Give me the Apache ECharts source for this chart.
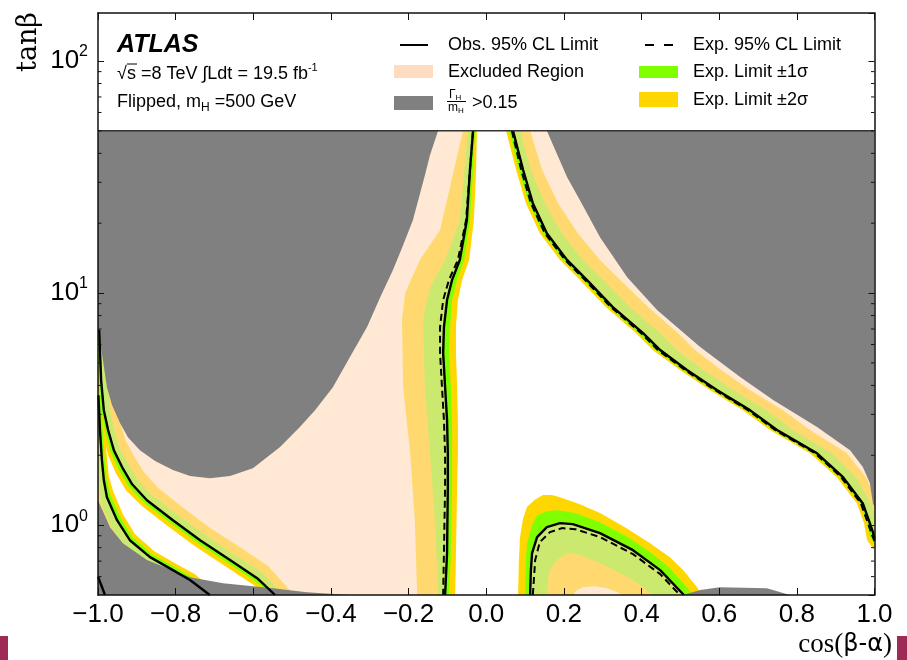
<!DOCTYPE html>
<html><head><meta charset="utf-8">
<script src="https://cdn.jsdelivr.net/npm/echarts@6/dist/echarts.min.js"></script>
<style>html,body{margin:0;padding:0;background:#fff}#c{width:907px;height:660px}</style>
</head><body><div id="c"></div>
<script>
// ---------- axis ticks ----------
const xTickValues = [-1.0, -0.8, -0.6, -0.4, -0.2, 0.0, 0.2, 0.4, 0.6, 0.8, 1.0];
const yMinorTicks = [0.6, 0.7, 0.8, 0.9, 2, 3, 4, 5, 6, 7, 8, 9, 20, 30, 40, 50, 60, 70, 80, 90];

// ---------- Gamma_H/m_H > 0.15 (grey) ----------
const grayTopLeft = [[-1,50],[-0.124,50],[-0.145,39.3],[-0.158,32.2],[-0.189,20.6],[-0.214,16.1],[-0.240,12.6],[-0.274,9.52],[-0.307,7.14],[-0.351,5.30],[-0.395,3.93],[-0.441,3.13],[-0.480,2.65],[-0.531,2.17],[-0.601,1.76],[-0.660,1.63],[-0.712,1.594],[-0.763,1.63],[-0.807,1.73],[-0.853,1.89],[-0.892,2.10],[-0.923,2.39],[-0.943,2.75],[-0.964,3.29],[-0.977,3.93],[-0.990,5.51],[-1,7.14]];
const grayTopRight = [[0.156,50],[0.208,31.6],[0.241,25.2],[0.293,17.4],[0.363,11.7],[0.440,8.45],[0.551,5.85],[0.654,4.35],[0.739,3.46],[0.852,2.65],[0.937,2.10],[0.970,1.78],[0.988,1.52],[0.996,1.24],[1,1.2],[1,50]];
const grayBottomLeft = [[-1,1.28],[-0.969,0.98],[-0.936,0.836],[-0.874,0.707],[-0.763,0.597],[-0.678,0.562],[-0.549,0.535],[-0.462,0.514],[-0.351,0.5],[-1,0.5]];
const grayBottomRight = [[0.507,0.5],[0.551,0.525],[0.602,0.540],[0.723,0.535],[0.782,0.5]];

// ---------- central-left contour ----------
const cenObs = [[-0.034,50],[-0.042,33.9],[-0.050,20.6],[-0.068,13.9],[-0.088,11.4],[-0.101,9.33],[-0.109,7.14],[-0.111,5.51],[-0.106,3.93],[-0.101,2.84],[-0.099,2.04],[-0.099,1.46],[-0.101,0.757],[-0.106,0.5]];
const cenExp = [[-0.034,50],[-0.042,33.9],[-0.052,20.6],[-0.073,13.9],[-0.096,11.4],[-0.111,9.33],[-0.119,7.14],[-0.119,5.51],[-0.114,3.93],[-0.109,2.84],[-0.106,2.04],[-0.106,1.46],[-0.109,0.757],[-0.111,0.5]];
const cenP1 = [[-0.029,50],[-0.034,33.9],[-0.042,20.6],[-0.057,13.9],[-0.075,11.4],[-0.088,9.33],[-0.093,7.14],[-0.096,5.51],[-0.091,3.93],[-0.088,2.84],[-0.088,2.04],[-0.088,1.46],[-0.091,0.757],[-0.096,0.5]];
const cenP2 = [[-0.024,50],[-0.026,33.9],[-0.032,20.6],[-0.044,13.9],[-0.062,11.4],[-0.073,9.33],[-0.078,7.14],[-0.078,5.51],[-0.075,3.93],[-0.073,2.84],[-0.073,2.04],[-0.075,1.46],[-0.078,0.757],[-0.080,0.5]];
const cenM1 = [[-0.047,50],[-0.068,20.6],[-0.106,13.9],[-0.145,10.6],[-0.163,7.65],[-0.158,3.93],[-0.145,2.04],[-0.132,1.05],[-0.124,0.5]];
const cenM2 = [[-0.060,50],[-0.119,18.7],[-0.171,13.9],[-0.209,10.0],[-0.217,7.65],[-0.214,3.93],[-0.196,2.04],[-0.184,1.05],[-0.178,0.5]];

// ---------- right contour ----------
const rightObs = [[0.069,50],[0.095,33.9],[0.120,24.4],[0.156,18.1],[0.208,13.9],[0.259,11.4],[0.326,8.70],[0.404,6.72],[0.448,5.68],[0.517,4.66],[0.594,3.82],[0.679,3.13],[0.749,2.57],[0.852,2.04],[0.919,1.61],[0.970,1.24],[0.988,1.02],[0.996,0.933],[1,0.87]];
const rightExp = [[0.066,50],[0.090,33.9],[0.115,24.4],[0.151,18.1],[0.203,13.9],[0.254,11.4],[0.321,8.70],[0.399,6.72],[0.442,5.68],[0.512,4.66],[0.589,3.82],[0.674,3.13],[0.744,2.57],[0.847,2.04],[0.914,1.61],[0.965,1.24],[0.983,1.02],[0.993,0.915],[1,0.853]];
const rightP1 = [[0.059,50],[0.084,33.9],[0.110,24.4],[0.146,18.1],[0.198,13.9],[0.249,11.4],[0.316,8.70],[0.393,6.72],[0.437,5.68],[0.507,4.66],[0.584,3.82],[0.669,3.13],[0.739,2.57],[0.842,2.04],[0.911,1.61],[0.963,1.24],[0.981,1.02],[0.988,0.897],[1,0.828]];
const rightP2 = [[0.051,50],[0.077,33.9],[0.102,24.4],[0.138,18.1],[0.190,13.9],[0.241,11.4],[0.308,8.70],[0.386,6.72],[0.429,5.68],[0.499,4.66],[0.576,3.82],[0.661,3.13],[0.731,2.57],[0.834,2.04],[0.903,1.61],[0.955,1.24],[0.973,1.02],[0.981,0.861],[1,0.780]];
const rightM1 = [[0.087,50],[0.115,33.9],[0.151,24.4],[0.195,18.1],[0.249,13.9],[0.301,11.4],[0.370,8.70],[0.448,6.72],[0.491,5.68],[0.559,4.66],[0.636,3.82],[0.721,3.13],[0.790,2.57],[0.890,2.04],[0.952,1.61],[0.991,1.24],[1,1.10]];
const rightM2 = [[0.113,50],[0.144,33.9],[0.185,24.4],[0.236,18.1],[0.293,13.9],[0.344,11.4],[0.417,8.70],[0.494,6.72],[0.538,5.68],[0.605,4.66],[0.679,3.82],[0.764,3.13],[0.834,2.57],[0.929,2.04],[0.978,1.61],[1,1.35]];

// ---------- lower-middle lobe ----------
const lobeObs = [[0.113,0.5],[0.115,0.640],[0.118,0.757],[0.131,0.888],[0.156,0.980],[0.190,1.02],[0.223,1.01],[0.293,0.924],[0.378,0.780],[0.448,0.640],[0.509,0.5]];
const lobeExp = [[0.120,0.5],[0.126,0.707],[0.138,0.845],[0.164,0.933],[0.195,0.971],[0.229,0.961],[0.293,0.888],[0.378,0.750],[0.448,0.615],[0.499,0.5]];
const lobeP1 = [[0.100,0.5],[0.102,0.707],[0.105,0.836],[0.118,1.0],[0.131,1.104],[0.156,1.149],[0.182,1.16],[0.229,1.127],[0.293,1.03],[0.370,0.879],[0.422,0.765],[0.473,0.653],[0.517,0.540],[0.530,0.5]];
const lobeP2 = [[0.082,0.5],[0.084,0.707],[0.087,0.888],[0.095,1.072],[0.105,1.20],[0.126,1.29],[0.146,1.35],[0.169,1.35],[0.190,1.32],[0.241,1.23],[0.293,1.127],[0.357,0.980],[0.422,0.836],[0.473,0.728],[0.507,0.640],[0.545,0.535],[0.553,0.5]];
const lobeM1 = [[0.156,0.5],[0.159,0.580],[0.164,0.640],[0.182,0.707],[0.208,0.757],[0.241,0.743],[0.293,0.686],[0.345,0.621],[0.378,0.580],[0.429,0.5]];
const lobeM2 = [[0.223,0.5],[0.234,0.525],[0.249,0.540],[0.280,0.546],[0.311,0.535],[0.337,0.514],[0.352,0.5]];

// ---------- lower-left contours ----------
const ulObs = [[-0.997,6.93],[-0.992,4.22],[-0.985,3.13],[-0.974,2.57],[-0.959,2.10],[-0.938,1.78],[-0.912,1.50],[-0.874,1.28],[-0.807,1.05],[-0.737,0.861],[-0.660,0.707],[-0.590,0.591],[-0.544,0.5]];
const ulM1 = [[-1,7.5],[-0.985,7.50],[-0.982,6.93],[-0.977,4.22],[-0.969,3.13],[-0.959,2.62],[-0.946,2.19],[-0.925,1.87],[-0.900,1.59],[-0.864,1.36],[-0.797,1.115],[-0.727,0.915],[-0.650,0.750],[-0.578,0.627],[-0.524,0.5]];
const ulM2 = [[-1,7.80],[-0.969,7.65],[-0.964,6.93],[-0.959,4.22],[-0.951,3.19],[-0.941,2.70],[-0.928,2.30],[-0.907,1.98],[-0.884,1.71],[-0.848,1.46],[-0.784,1.20],[-0.714,0.980],[-0.634,0.804],[-0.562,0.666],[-0.495,0.5]];
const ulP1 = [[-1,7.21],[-0.999,4.22],[-0.991,3.13],[-0.981,2.52],[-0.967,2.06],[-0.946,1.73],[-0.920,1.46],[-0.879,1.24],[-0.812,1.02],[-0.742,0.836],[-0.665,0.686],[-0.596,0.574],[-0.552,0.5]];
const ulP2 = [[-1,7.28],[-1,4.22],[-0.999,3.13],[-0.987,2.47],[-0.974,2.00],[-0.954,1.675],[-0.928,1.415],[-0.887,1.21],[-0.820,0.990],[-0.750,0.812],[-0.673,0.666],[-0.603,0.557],[-0.562,0.5]];

const llObs = [[-0.999,3.63],[-0.995,2.57],[-0.990,1.91],[-0.985,1.56],[-0.977,1.32],[-0.951,1.05],[-0.918,0.861],[-0.866,0.728],[-0.807,0.640],[-0.763,0.580],[-0.712,0.5]];
const llP1 = [[-1,3.63],[-0.992,3.63],[-0.988,2.57],[-0.983,1.925],[-0.978,1.594],[-0.969,1.36],[-0.943,1.083],[-0.912,0.888],[-0.861,0.750],[-0.802,0.659],[-0.758,0.597],[-0.701,0.5]];
const llP2 = [[-1,3.63],[-0.986,3.63],[-0.982,2.57],[-0.977,1.945],[-0.972,1.626],[-0.961,1.40],[-0.936,1.115],[-0.905,0.915],[-0.856,0.773],[-0.797,0.679],[-0.750,0.615],[-0.691,0.5]];
const llM1 = [[-1,1.73],[-0.997,1.415],[-0.992,1.24],[-0.967,0.990],[-0.931,0.812],[-0.876,0.686],[-0.817,0.603],[-0.776,0.546],[-0.737,0.5]];
const llM2 = [[-1,1.22],[-0.985,0.924],[-0.949,0.757],[-0.892,0.640],[-0.833,0.562],[-0.794,0.509],[-0.784,0.5]];
const cornerObs = [[-1,0.60],[-0.982,0.5]];

// ---------- colours ----------
const C_YEL = '#FFD700', C_GRN = '#7FFF00', C_GRAY = '#808080', C_EXCL = 'rgba(255,218,185,0.6)';

const rev = a => a.slice().reverse();
function band(outer, inner) { return outer.concat(rev(inner)); }

function poly(pts, fill, z) {
  return {
    type: 'custom', coordinateSystem: 'cartesian2d', xAxisIndex: 0, yAxisIndex: 0,
    clip: true, silent: true, z: z, animation: false, data: [[0, 1]],
    renderItem: function (params, api) {
      return { type: 'polygon', shape: { points: pts.map(p => api.coord(p)) }, style: { fill: fill } };
    }
  };
}
function line(pts, dashed, z) {
  return {
    type: 'line', data: pts, showSymbol: false, symbol: 'none', clip: true, silent: true,
    animation: false, z: z || 4,
    lineStyle: { color: '#000', width: dashed ? 2 : 2.4, type: dashed ? [7, 4] : 'solid' }
  };
}

const series = [
  poly(band(cenP2, cenM2), C_YEL, 1),
  poly(band(rightP2, rightM2), C_YEL, 1),
  poly(band(lobeP2, lobeM2), C_YEL, 1),
  poly(band(ulM2, ulP2), C_YEL, 1),
  poly(band(llP2, llM2), C_YEL, 1),
  poly(band(cenP1, cenM1), C_GRN, 1),
  poly(band(rightP1, rightM1), C_GRN, 1),
  poly(band(lobeP1, lobeM1), C_GRN, 1),
  poly(band(ulM1, ulP1), C_GRN, 1),
  poly(band(llP1, llM1), C_GRN, 1),
  poly([[-1,50]].concat(cenObs, rev(ulObs), [[-1,6.93]]), C_EXCL, 2),
  poly(llObs.concat([[-1,0.5],[-1,3.63]]), C_EXCL, 2),
  poly(rightObs.concat([[1,50]]), C_EXCL, 2),
  poly(lobeObs, C_EXCL, 2),
  poly(grayTopLeft, C_GRAY, 3),
  poly(grayTopRight, C_GRAY, 3),
  poly(grayBottomLeft, C_GRAY, 3),
  poly(grayBottomRight, C_GRAY, 3),
  line(cenExp, true), line(rightExp, true), line(lobeExp, true),
  line(cenObs), line(rightObs), line(lobeObs), line(ulObs), line(llObs), line(cornerObs),
  { type: 'line', data: [[-1, 50], [1, 50]], showSymbol: false, symbol: 'none', silent: true, animation: false, z: 6,
    lineStyle: { color: '#333', width: 1.5 } },
  {
    type: 'custom', coordinateSystem: 'cartesian2d', silent: true, z: 7, animation: false, clip: false,
    data: [[0, 1]],
    renderItem: function (params, api) {
      const children = [];
      yMinorTicks.forEach(v => {
        const l = api.coord([-1, v]), r = api.coord([1, v]);
        children.push({ type: 'line', shape: { x1: l[0], y1: l[1], x2: l[0] + 3.5, y2: l[1] }, style: { stroke: '#111', lineWidth: 1 } });
        children.push({ type: 'line', shape: { x1: r[0], y1: r[1], x2: r[0] - 3.5, y2: r[1] }, style: { stroke: '#111', lineWidth: 1 } });
      });
      return { type: 'group', children: children };
    }
  }
];

const axisLineStyle = { show: true, onZero: false, lineStyle: { color: '#111', width: 1.5 } };
const xCommon = { type: 'value', min: -1, max: 1, interval: 0.2, z: 10, splitLine: { show: false },
  axisLine: axisLineStyle, axisTick: { show: true, inside: true, length: 7, lineStyle: { color: '#111', width: 1 } } };
const yCommon = { type: 'log', logBase: 10, min: 0.5, max: 161, z: 10, splitLine: { show: false },
  axisLine: axisLineStyle, axisTick: { show: true, inside: true, length: 6, lineStyle: { color: '#111', width: 1 } } };

const option = {
  backgroundColor: '#fff',
  animation: false,
  grid: { left: 98, right: 32.5, top: 13, bottom: 65, containLabel: false },
  xAxis: [
    Object.assign({}, xCommon, { position: 'bottom',
      axisLabel: { show: true, margin: 7, fontFamily: 'Liberation Sans', fontSize: 26, color: '#000',
        formatter: v => (Math.abs(v) < 1e-9 ? '0.0' : v.toFixed(1)).replace('-', '\u2212') } }),
    Object.assign({}, xCommon, { position: 'top', axisLabel: { show: false } })
  ],
  yAxis: [
    Object.assign({}, yCommon, { position: 'left',
      axisLabel: { show: true, margin: 10, showMinLabel: false, showMaxLabel: false,
        formatter: function (v) {
          const e = Math.log10(v); const r = Math.round(e);
          if (Math.abs(e - r) > 0.01) return '';
          return '{b|10}{s|' + r + '}';
        },
        rich: { b: { fontFamily: 'Liberation Sans', fontSize: 26, lineHeight: 34, color: '#000' },
                s: { fontFamily: 'Liberation Sans', fontSize: 16, lineHeight: 16, verticalAlign: 'top', color: '#000' } } } }),
    Object.assign({}, yCommon, { position: 'right', axisLabel: { show: false } })
  ],
  series: series,
  graphic: [
    { type: 'text', x: 29, y: 42, rotation: Math.PI / 2, style: { text: 'tanβ', font: '27px "DejaVu Serif"', fill: '#000', align: 'center', verticalAlign: 'middle' } },
    { type: 'text', x: 892, y: 645, style: { text: '{a|cos(}{b|β-α}{a|)}', align: 'right', verticalAlign: 'middle',
        rich: { a: { fontFamily: 'Liberation Serif', fontSize: 27, color: '#000' }, b: { fontFamily: 'DejaVu Sans', fontSize: 24, color: '#000' } } } },
    { type: 'text', x: 117, y: 45, style: { text: 'ATLAS', font: 'italic bold 25px "Liberation Sans"', fill: '#000', align: 'left', verticalAlign: 'middle' } },
    { type: 'text', x: 117, y: 74, style: { text: '{n|√s =8 TeV ∫Ldt = 19.5 fb}{s|-1}', align: 'left', verticalAlign: 'middle',
        rich: { n: { fontFamily: 'Liberation Sans', fontSize: 18, lineHeight: 24, color: '#000' }, s: { fontFamily: 'Liberation Sans', fontSize: 11, lineHeight: 11, verticalAlign: 'top', color: '#000' } } } },
    { type: 'line', shape: { x1: 127, y1: 64, x2: 137, y2: 64 }, style: { stroke: '#000', lineWidth: 1 } },
    { type: 'text', x: 117, y: 102, style: { text: '{n|Flipped, m}{s|H}{n| =500 GeV}', align: 'left', verticalAlign: 'middle',
        rich: { n: { fontFamily: 'Liberation Sans', fontSize: 18, lineHeight: 24, color: '#000' }, s: { fontFamily: 'Liberation Sans', fontSize: 12, lineHeight: 12, verticalAlign: 'bottom', color: '#000' } } } },
    // legend column 1
    { type: 'line', shape: { x1: 400, y1: 45, x2: 428, y2: 45 }, style: { stroke: '#000', lineWidth: 2 } },
    { type: 'text', x: 448, y: 45, style: { text: 'Obs. 95% CL Limit', font: '18px "Liberation Sans"', fill: '#000', align: 'left', verticalAlign: 'middle' } },
    { type: 'rect', shape: { x: 394, y: 65, width: 39, height: 13 }, style: { fill: '#FFDBBF' } },
    { type: 'text', x: 448, y: 72, style: { text: 'Excluded Region', font: '18px "Liberation Sans"', fill: '#000', align: 'left', verticalAlign: 'middle' } },
    { type: 'rect', shape: { x: 394, y: 96, width: 39, height: 14 }, style: { fill: C_GRAY } },
    { type: 'text', x: 449, y: 95, style: { text: '{n|Γ}{s|H}', align: 'left', verticalAlign: 'middle',
        rich: { n: { fontFamily: 'Liberation Sans', fontSize: 12, lineHeight: 13, color: '#000' }, s: { fontFamily: 'Liberation Sans', fontSize: 8, lineHeight: 8, verticalAlign: 'bottom', color: '#000' } } } },
    { type: 'line', shape: { x1: 447, y1: 101.5, x2: 466, y2: 101.5 }, style: { stroke: '#000', lineWidth: 1 } },
    { type: 'text', x: 448, y: 108, style: { text: '{n|m}{s|H}', align: 'left', verticalAlign: 'middle',
        rich: { n: { fontFamily: 'Liberation Sans', fontSize: 12, lineHeight: 13, color: '#000' }, s: { fontFamily: 'Liberation Sans', fontSize: 8, lineHeight: 8, verticalAlign: 'bottom', color: '#000' } } } },
    { type: 'text', x: 472, y: 103, style: { text: '>0.15', font: '18px "Liberation Sans"', fill: '#000', align: 'left', verticalAlign: 'middle' } },
    // legend column 2
    { type: 'line', shape: { x1: 645, y1: 45, x2: 673, y2: 45 }, style: { stroke: '#000', lineWidth: 2, lineDash: [9, 10] } },
    { type: 'text', x: 693, y: 45, style: { text: 'Exp. 95% CL Limit', font: '18px "Liberation Sans"', fill: '#000', align: 'left', verticalAlign: 'middle' } },
    { type: 'rect', shape: { x: 639, y: 66, width: 39, height: 12 }, style: { fill: C_GRN } },
    { type: 'text', x: 693, y: 72, style: { text: 'Exp. Limit ±1σ', font: '18px "Liberation Sans"', fill: '#000', align: 'left', verticalAlign: 'middle' } },
    { type: 'rect', shape: { x: 639, y: 92, width: 39, height: 15 }, style: { fill: C_YEL } },
    { type: 'text', x: 693, y: 100, style: { text: 'Exp. Limit ±2σ', font: '18px "Liberation Sans"', fill: '#000', align: 'left', verticalAlign: 'middle' } },
    // page-edge marks
    { type: 'rect', shape: { x: 0, y: 636, width: 8, height: 24 }, style: { fill: '#9e2b55' } },
    { type: 'rect', shape: { x: 897, y: 636, width: 10, height: 24 }, style: { fill: '#9e2b55' } }
  ]
};

const chart = echarts.init(document.getElementById('c'), null, { renderer: 'canvas' });
chart.setOption(option);
</script></body></html>
